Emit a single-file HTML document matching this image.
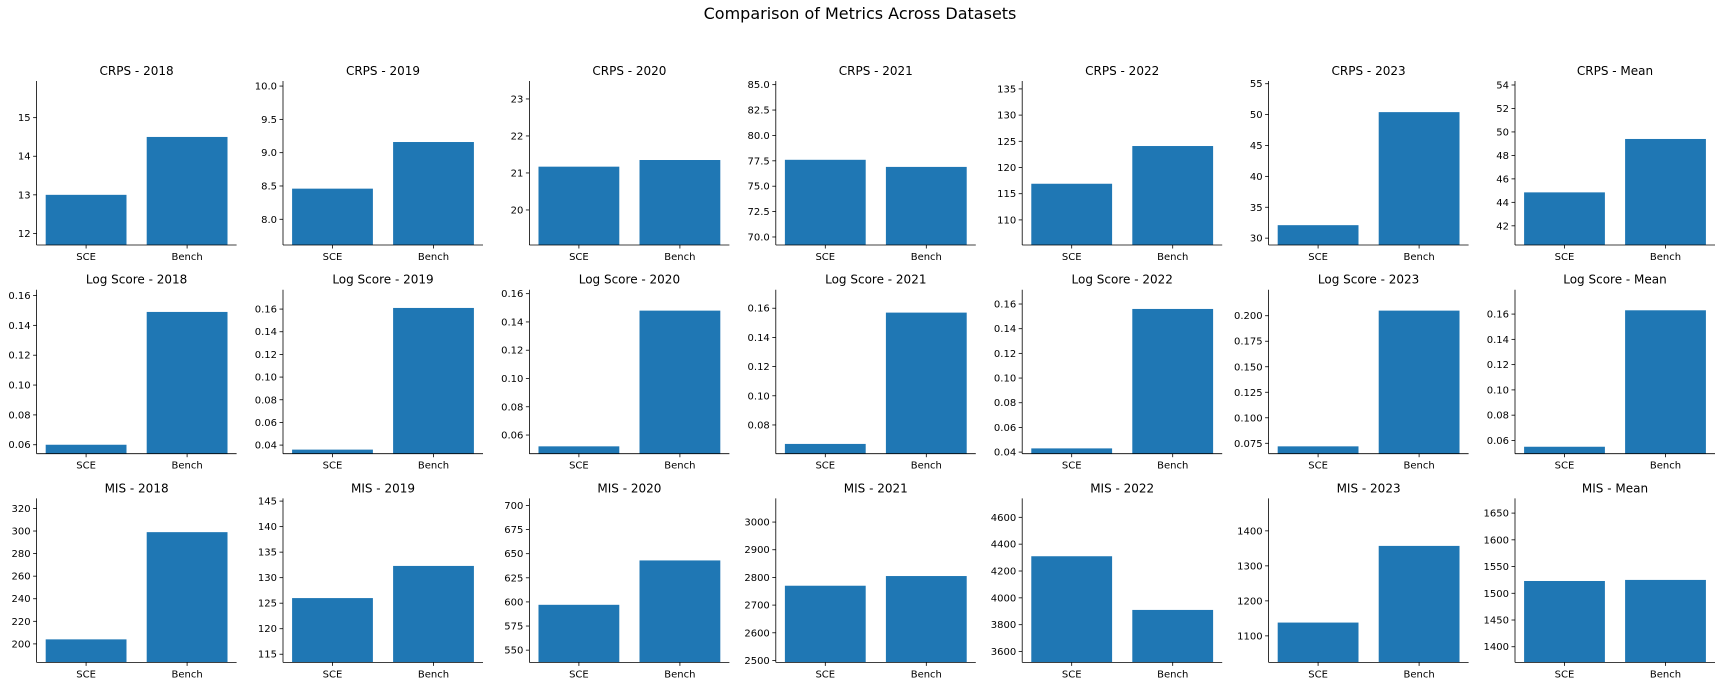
<!DOCTYPE html>
<html><head><meta charset="utf-8"><style>
html,body{margin:0;padding:0;background:#fff;}
svg{display:block;font-family:"DejaVu Sans","Liberation Sans",sans-serif;}
</style></head><body>
<svg id="fig" width="1720" height="687" viewBox="0 0 1720 687" xmlns="http://www.w3.org/2000/svg">
<rect width="1720" height="687" fill="#fff"/>
<text x="860" y="19" font-size="16" text-anchor="middle" fill="#000">Comparison of Metrics Across Datasets</text>
</svg>
<script>
const categories = ["SCE", "Bench"];
const periods = ["2018", "2019", "2020", "2021", "2022", "2023", "Mean"];
const metrics = ["CRPS", "Log Score", "MIS"];
const crpsSCE = [13.0, 8.46, 21.17, 77.6, 116.9, 32.1, 44.85];
const crpsBench = [14.5, 9.16, 21.35, 76.9, 124.1, 50.4, 49.4];
const logSCE = [0.060, 0.036, 0.052, 0.067, 0.043, 0.072, 0.055];
const logBench = [0.149, 0.161, 0.148, 0.157, 0.156, 0.205, 0.163];
const misSCE = [204, 126, 597, 2770, 4310, 1138, 1523];
const misBench = [299, 132.3, 643, 2805, 3910, 1357, 1525];
const crpsTicks = [
  ["12","13","14","15"], ["8.0","8.5","9.0","9.5","10.0"], ["20","21","22","23"],
  ["70.0","72.5","75.0","77.5","80.0","82.5","85.0"], ["110","115","120","125","130","135"],
  ["30","35","40","45","50","55"], ["42","44","46","48","50","52","54"]];
const logTicks = [
  ["0.06","0.08","0.10","0.12","0.14","0.16"], ["0.04","0.06","0.08","0.10","0.12","0.14","0.16"],
  ["0.06","0.08","0.10","0.12","0.14","0.16"], ["0.08","0.10","0.12","0.14","0.16"],
  ["0.04","0.06","0.08","0.10","0.12","0.14","0.16"], ["0.075","0.100","0.125","0.150","0.175","0.200"],
  ["0.06","0.08","0.10","0.12","0.14","0.16"]];
const misTicks = [
  ["200","220","240","260","280","300","320"], ["115","120","125","130","135","140","145"],
  ["550","575","600","625","650","675","700"], ["2500","2600","2700","2800","2900","3000"],
  ["3600","3800","4000","4200","4400","4600"], ["1100","1200","1300","1400"],
  ["1400","1450","1500","1550","1600","1650"]];

const NS = "http://www.w3.org/2000/svg";
const svg = document.getElementById("fig");
const seriesSCE = [crpsSCE, logSCE, misSCE];
const seriesBench = [crpsBench, logBench, misBench];
const tickSets = [crpsTicks, logTicks, misTicks];
const AX_L0 = 36.6, AX_DX = 246.4, AX_W = 200, AX_T0 = 81, AX_DY = 208.7, AX_H = 164;
function mk(tag, attrs, parent) {
  const e = document.createElementNS(NS, tag);
  for (const k in attrs) e.setAttribute(k, attrs[k]);
  parent.appendChild(e);
  return e;
}
for (let r = 0; r < 3; r++) {
  for (let c = 0; c < 7; c++) {
    const left = AX_L0 + AX_DX * c, top = AX_T0 + AX_DY * r, bottom = top + AX_H;
    const vals = [seriesSCE[r][c], seriesBench[r][c]];
    const ymin = Math.min(...vals) * 0.9, ymax = Math.max(...vals) * 1.1;
    const y = v => bottom - (v - ymin) / (ymax - ymin) * AX_H;
    const x = i => left + (i + 0.49) / 1.98 * AX_W;
    const g = mk("g", {}, svg);
    
    
    const t = mk("text", {x: left + AX_W / 2, y: top - 6, "font-size": 12, "text-anchor": "middle", fill: "#000"}, g);
    t.textContent = metrics[r] + " - " + periods[c];
    
    
    vals.forEach((v, i) => {
      const bw = 0.8 / 1.98 * AX_W;
      const b = mk("rect", {x: x(i) - bw / 2, y: y(v), width: bw, height: bottom - y(v), fill: "#1f77b4"}, g);
      
      
      mk("line", {x1: x(i), x2: x(i), y1: bottom, y2: bottom + 3.5, stroke: "#000", "stroke-width": 0.8}, g);
      const xl = mk("text", {x: x(i), y: bottom + 15, "font-size": 10, "text-anchor": "middle", fill: "#000"}, g);
      xl.textContent = categories[i];
      
      
    });
    tickSets[r][c].forEach(lbl => {
      const v = parseFloat(lbl);
      if (v < ymin - 1e-9 || v > ymax + 1e-9) return;
      const yy = y(v);
      mk("line", {x1: left - 3.5, x2: left, y1: yy, y2: yy, stroke: "#000", "stroke-width": 0.8}, g);
      const yl = mk("text", {x: left - 6, y: yy + 3.5, "font-size": 10, "text-anchor": "end", fill: "#000"}, g);
      yl.textContent = lbl;
      
      
    });
    const ls = mk("line", {x1: left, x2: left, y1: top, y2: bottom, stroke: "#000", "stroke-width": 0.8}, g);
    
    
    const bs = mk("line", {x1: left, x2: left + AX_W, y1: bottom, y2: bottom, stroke: "#000", "stroke-width": 0.8}, g);
    
    
  }
}
</script>
</body></html>
